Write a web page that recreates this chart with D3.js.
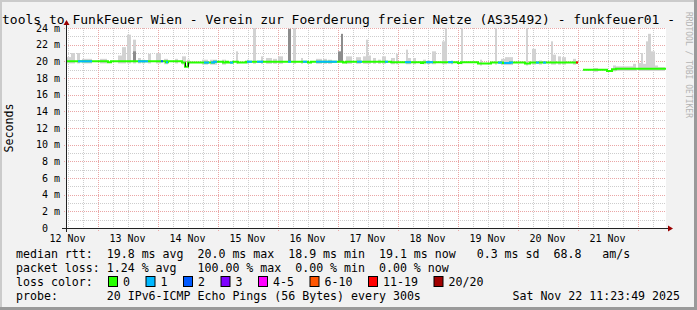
<!DOCTYPE html>
<html>
<head>
<meta charset="utf-8">
<script src="https://cdn.jsdelivr.net/npm/d3@7"></script>
<style>
body { margin: 0; background: #f2f2f2; }
text { font-family: "DejaVu Sans Mono", monospace; }
</style>
</head>
<body>
<div id="chart"></div>
<script>
// graph window (10 days, ends at the time stamp in the legend)
var startTime = new Date(Date.UTC(2025, 10, 12, 11, 23, 49));
var endTime = new Date(Date.UTC(2025, 10, 22, 11, 23, 49));

var dayLabels = ["12 Nov", "13 Nov", "14 Nov", "15 Nov", "16 Nov", "17 Nov", "18 Nov", "19 Nov", "20 Nov", "21 Nov"];
var yTicks = [0, 2, 4, 6, 8, 10, 12, 14, 16, 18, 20, 22, 24];
var yTickLabels = ["0  ", "2 m", "4 m", "6 m", "8 m", "10 m", "12 m", "14 m", "16 m", "18 m", "20 m", "22 m", "24 m"];

// median rtt (ms) as a step series, hours since start; null = no data
var medianHour = [0, 16.8, 18, 40, 40.8, 46.4, 47.6, 48.8, 59.2, 62.8, 64, 64.8, 66.8, 68.8, 72, 96.8, 98,
    110.8, 112, 130, 142, 142.8, 156.8, 158, 164.8, 170, 174.8, 177.6, 183.6, 185.6, 204.8, 206.8, 216.4, 218.4, 220];
var medianMs = [20.0, 19.9, 20.0, 19.9, 20.0, 19.85, 19.35, 19.85, 19.95, 19.85, 19.95, 19.85, 19.95, 19.85, 19.95, 19.85, 19.95,
    19.85, 19.95, 19.9, 19.8, 19.9, 19.8, 19.9, 19.75, 19.85, 19.8, 19.85, 19.75, 19.85, null, 19.0, 18.85, 19.05, 19.1];

// periods with packet loss (hours since start, lost pings of 20)
var lossFrom = [4.8, 28.8, 38, 40, 55.2, 58, 65.6, 72.4, 76.4, 88.8, 94.8, 100, 116.4, 127.6, 135.6, 144, 152.8, 172.8, 175.2, 188, 190.8, 204];
var lossTo = [10.4, 32.8, 38.8, 40.8, 57.2, 60.4, 66.8, 74.4, 78.8, 90, 96.4, 108.4, 118.4, 128.8, 138, 146.8, 154.8, 174.4, 178.8, 189.2, 192, 204.8];
var lossCount = [1, 1, 2, 1, 1, 1, 1, 1, 1, 1, 1, 1, 1, 1, 1, 1, 1, 1, 1, 1, 1, 12];

// smoke (spread of the 20 pings), top in ms
var smokeFrom = [0.4, 2.0, 4.4, 6.4, 13.6, 20.8, 22.4, 24.4, 26.8, 28.8, 30.4, 32.8, 36.0, 39.2, 43.6, 46.4, 48.4, 54.4, 57.6, 62.4,
    68.0, 72.4, 74.8, 78.0, 80.0, 82.8, 84.8, 90.8, 94.0, 100.0, 102.8, 104.8, 112.0, 116.0, 118.8, 120.0, 120.8, 122.8, 124.8, 126.4,
    130.0, 132.0, 136.0, 136.8, 138.8, 142.8, 144.4, 146.4, 150.4, 151.6, 154.0, 158.0, 165.6, 171.6, 174.0, 175.6, 184.0, 186.4, 189.2,
    194.0, 194.8, 196.8, 198.4, 202.8, 210.8, 218.8, 220.0, 226.8, 228.8, 230.0, 230.8, 232.0, 232.8, 234.0, 235.6, 236.8];
var smokeTo = [2.0, 3.6, 5.6, 10.4, 16.4, 22.4, 24.0, 26.0, 28.0, 30.0, 31.6, 34.0, 38.0, 40.8, 44.8, 48.0, 49.6, 56.8, 60.4, 64.0,
    68.8, 73.2, 76.0, 78.8, 82.4, 84.4, 86.8, 92.0, 94.8, 102.4, 104.4, 106.4, 114.4, 118.0, 120.0, 120.8, 122.0, 124.0, 126.0, 128.0,
    131.6, 132.8, 136.8, 138.0, 140.0, 144.0, 145.6, 148.0, 151.6, 152.4, 154.8, 158.8, 166.4, 172.4, 175.6, 178.8, 184.8, 188.0, 190.4,
    194.8, 196.0, 198.0, 200.0, 204.0, 212.8, 220.0, 226.8, 228.0, 230.0, 230.8, 232.0, 232.8, 234.0, 235.6, 236.8, 239.6];
var smokeTop = [20.5, 21.0, 21.0, 20.3, 20.3, 20.7, 21.7, 23.2, 22.6, 20.4, 20.2, 20.9, 21.0, 20.3, 20.3, 20.6, 20.2, 20.2, 20.2, 20.2,
    21.2, 20.2, 24.0, 20.6, 20.4, 20.3, 20.6, 24.0, 20.4, 20.3, 20.3, 20.2, 20.6, 20.5, 20.6, 22.6, 20.7, 20.4, 20.2, 20.6,
    20.4, 20.9, 21.4, 20.4, 20.4, 20.2, 20.1, 21.2, 22.4, 24.0, 20.1, 24.0, 20.2, 24.0, 20.3, 20.5, 24.0, 21.5, 20.1,
    22.4, 20.8, 20.6, 20.5, 20.3, 19.2, 19.5, 19.4, 19.7, 19.8, 21.0, 19.7, 22.4, 23.3, 21.2, 19.5, 19.3];

// denser smoke
var darkFrom = [26.8, 88.8, 108.8, 110.0];
var darkTo = [28.0, 90.0, 110.0, 110.8];
var darkTop = [21.2, 23.9, 21.2, 23.3];

var lossNames = ["0", "1", "2", "3", "4-5", "6-10", "11-19", "20/20"];
var lossLimits = [0, 1, 2, 3, 5, 10, 19, 20];
var lossColors = ["#26ff00", "#00b8ff", "#0059ff", "#7e00ff", "#ff00ff", "#ff5500", "#ff0000", "#a10000"];

var titleText = "tools to FunkFeuer Wien - Verein zur Foerderung freier Netze (AS35492) - funkfeuer01 -";
var legendRows = [
    "median rtt:  19.8 ms avg  20.0 ms max  18.9 ms min  19.1 ms now   0.3 ms sd  68.8   am/s",
    "packet loss: 1.24 % avg   100.00 % max  0.00 % min  0.00 % now",
    "loss color:",
    "probe:       20 IPv6-ICMP Echo Pings (56 Bytes) every 300s"
];
var stampText = "Sat Nov 22 11:23:49 2025";

var W = 697, H = 310;
var plotL = 66, plotR = 666, plotT = 28, plotB = 228;
var charW = 7.0;

var svg = d3.select("#chart").append("svg")
    .attr("width", W)
    .attr("height", H);

svg.append("rect").attr("width", W).attr("height", H).attr("fill", "#f2f2f2");
// 3d frame
svg.append("rect").attr("x", 0).attr("y", 0).attr("width", W).attr("height", 2).attr("fill", "#cbcbcb");
svg.append("rect").attr("x", 0).attr("y", 0).attr("width", 2).attr("height", H).attr("fill", "#cbcbcb");
svg.append("rect").attr("x", W - 3).attr("y", 0).attr("width", 3).attr("height", H).attr("fill", "#9a9a9a");
svg.append("rect").attr("x", 0).attr("y", H - 3).attr("width", W).attr("height", 3).attr("fill", "#9a9a9a");

var x = d3.scaleUtc().domain([startTime, endTime]).range([plotL, plotR]);
var y = d3.scaleLinear().domain([0, 24]).range([plotB, plotT]);

function hourToDate(h) { return new Date(+startTime + h * 3600e3); }
function medianAt(h) {
    var i = d3.bisectRight(medianHour, h) - 1;
    return medianMs[Math.max(i, 0)];
}
function lossColor(n) {
    for (var i = 0; i < lossLimits.length; i++) if (n <= lossLimits[i]) return lossColors[i];
    return lossColors[lossColors.length - 1];
}

// canvas
svg.append("rect")
    .attr("x", plotL).attr("y", plotT)
    .attr("width", plotR - plotL).attr("height", plotB - plotT)
    .attr("fill", "#ffffff");

// grid
var grid = svg.append("g");
var minorY = d3.range(1, 24, 2);
grid.selectAll("line.my").data(minorY).enter().append("line")
    .attr("x1", plotL).attr("x2", plotR)
    .attr("y1", function(d) { return Math.round(y(d)) + 0.5; })
    .attr("y2", function(d) { return Math.round(y(d)) + 0.5; })
    .attr("stroke", "#cdcdcd").attr("stroke-dasharray", "1,1");
var minorX = d3.utcHour.every(6).range(startTime, endTime).filter(function(d) { return d.getUTCHours() !== 0; });
grid.selectAll("line.mx").data(minorX).enter().append("line")
    .attr("x1", function(d) { return Math.round(x(d)) + 0.5; })
    .attr("x2", function(d) { return Math.round(x(d)) + 0.5; })
    .attr("y1", plotT).attr("y2", plotB + 2)
    .attr("stroke", "#cdcdcd").attr("stroke-dasharray", "1,1");
grid.selectAll("line.My").data(yTicks.slice(1)).enter().append("line")
    .attr("x1", plotL - 2).attr("x2", plotR)
    .attr("y1", function(d) { return Math.round(y(d)) + 0.5; })
    .attr("y2", function(d) { return Math.round(y(d)) + 0.5; })
    .attr("stroke", "#eaa6a6").attr("stroke-dasharray", "1,1");
var majorX = d3.utcDay.range(startTime, endTime);
grid.selectAll("line.Mx").data(majorX).enter().append("line")
    .attr("x1", function(d) { return Math.round(x(d)) + 0.5; })
    .attr("x2", function(d) { return Math.round(x(d)) + 0.5; })
    .attr("y1", plotT).attr("y2", plotB + 3)
    .attr("stroke", "#eaa6a6").attr("stroke-dasharray", "1,1");

// smoke
var plot = svg.append("g");
plot.selectAll("rect.smoke").data(smokeFrom).enter().append("rect")
    .attr("x", function(d) { return x(hourToDate(d)); })
    .attr("width", function(d, i) { return x(hourToDate(smokeTo[i])) - x(hourToDate(d)); })
    .attr("y", function(d, i) { return y(smokeTop[i]); })
    .attr("height", function(d, i) { return y(medianAt((d + smokeTo[i]) / 2) - 0.25) - y(smokeTop[i]); })
    .attr("fill", "#d2d2d2");
plot.selectAll("rect.dark").data(darkFrom).enter().append("rect")
    .attr("x", function(d) { return x(hourToDate(d)); })
    .attr("width", function(d, i) { return x(hourToDate(darkTo[i])) - x(hourToDate(d)); })
    .attr("y", function(d, i) { return y(darkTop[i]); })
    .attr("height", function(d, i) { return y(medianAt(d)) - y(darkTop[i]); })
    .attr("fill", "#8c8c8c");

// median line, coloured by loss
var medianPts = [];
medianHour.forEach(function(h, i) {
    medianPts.push([h, medianMs[i]]);
    // close the step before a gap
    if (medianMs[i] !== null && i + 1 < medianMs.length && medianMs[i + 1] === null) {
        medianPts.push([medianHour[i + 1], medianMs[i]]);
    }
});
medianPts.push([240, medianMs[medianMs.length - 1]]);
var stepLine = d3.line()
    .defined(function(d) { return d[1] !== null; })
    .x(function(d) { return x(hourToDate(d[0])); })
    .y(function(d) { return y(d[1]); })
    .curve(d3.curveStepAfter);
plot.append("path")
    .datum(medianPts)
    .attr("d", stepLine)
    .attr("fill", "none")
    .attr("stroke", lossColors[0])
    .attr("stroke-width", 2);

// large jumps are joined by a dark rule
for (var i = 0; i < medianMs.length - 1; i++) {
    var a = medianMs[i], b = medianMs[i + 1];
    if (a !== null && b !== null && Math.abs(a - b) >= 0.3) {
        var xx = Math.round(x(hourToDate(medianHour[i + 1]))) + 0.5;
        plot.append("line")
            .attr("x1", xx).attr("x2", xx)
            .attr("y1", y(a)).attr("y2", y(b))
            .attr("stroke", "#111").attr("stroke-width", 1);
    }
}

lossFrom.forEach(function(f, i) {
    var t = lossTo[i];
    var pts = [[f, medianAt(f)]];
    medianHour.forEach(function(h, j) { if (h > f && h < t) pts.push([h, medianMs[j]]); });
    pts.push([t, medianAt(t - 0.01)]);
    plot.append("path")
        .datum(pts)
        .attr("d", stepLine)
        .attr("fill", "none")
        .attr("stroke", lossColor(lossCount[i]))
        .attr("stroke-width", 2);
});

// axes
var axisColor = "#222";
var arrowColor = "#9a0000";
svg.append("line")
    .attr("x1", plotL - 4).attr("x2", plotR + 3)
    .attr("y1", plotB + 0.5).attr("y2", plotB + 0.5)
    .attr("stroke", axisColor);
svg.append("line")
    .attr("x1", plotL + 0.5).attr("x2", plotL + 0.5)
    .attr("y1", plotB + 4).attr("y2", plotT - 4)
    .attr("stroke", axisColor);
svg.append("path")
    .attr("d", "M" + (plotR + 2) + "," + (plotB - 2.5) + "L" + (plotR + 7) + "," + (plotB + 0.5) + "L" + (plotR + 2) + "," + (plotB + 3.5) + "Z")
    .attr("fill", arrowColor);
svg.append("path")
    .attr("d", "M" + (plotL - 2.5) + "," + (plotT - 3) + "L" + (plotL + 0.5) + "," + (plotT - 8) + "L" + (plotL + 3.5) + "," + (plotT - 3) + "Z")
    .attr("fill", arrowColor);

// y tick labels
svg.selectAll("text.yl").data(yTicks).enter().append("text")
    .attr("x", 60)
    .attr("y", function(d) { return y(d) + 3.5; })
    .attr("text-anchor", "end")
    .attr("xml:space", "preserve")
    .style("white-space", "pre")
    .attr("font-size", "10px")
    .attr("fill", "#000")
    .text(function(d, i) { return yTickLabels[i]; });

// x labels at noon of each day
var noons = majorX.map(function(d) { return d3.utcHour.offset(d, -12); });
svg.selectAll("text.xl").data(dayLabels).enter().append("text")
    .attr("x", function(d, i) { return x(noons[i]); })
    .attr("y", 242)
    .attr("text-anchor", "middle")
    .attr("font-size", "10px")
    .attr("fill", "#000")
    .text(function(d) { return d; });

// axis title
svg.append("text")
    .attr("transform", "translate(13,128) rotate(-90)")
    .attr("text-anchor", "middle")
    .attr("font-size", "11.6px")
    .attr("fill", "#000")
    .text("Seconds");

// title
svg.append("text")
    .attr("x", 2).attr("y", 24)
    .attr("font-size", "13px")
    .attr("fill", "#000")
    .text(titleText);

// watermark
svg.append("text")
    .attr("transform", "translate(686,12) rotate(90)")
    .attr("font-size", "8px")
    .attr("fill", "#b4b4b4")
    .text("RRDTOOL / TOBI OETIKER");

// legend
var rowY = [258, 272, 286, 300];
legendRows.forEach(function(r, i) {
    svg.append("text")
        .attr("x", 16).attr("y", rowY[i])
        .attr("xml:space", "preserve")
        .style("white-space", "pre")
        .attr("font-size", "11.6px")
        .attr("fill", "#000")
        .text(r);
});
var bx = 108;
lossNames.forEach(function(n, i) {
    svg.append("rect")
        .attr("x", bx + 0.5).attr("y", rowY[2] - 9.5)
        .attr("width", 9).attr("height", 10)
        .attr("fill", lossColors[i])
        .attr("stroke", "#000");
    svg.append("text")
        .attr("x", bx + 15).attr("y", rowY[2])
        .attr("font-size", "11.6px")
        .attr("fill", "#000")
        .text(n);
    bx = bx + 15 + n.length * charW + 15.5;
});
svg.append("text")
    .attr("x", 680).attr("y", rowY[3])
    .attr("text-anchor", "end")
    .attr("font-size", "11.6px")
    .attr("fill", "#000")
    .text(stampText);
</script>
</body>
</html>
